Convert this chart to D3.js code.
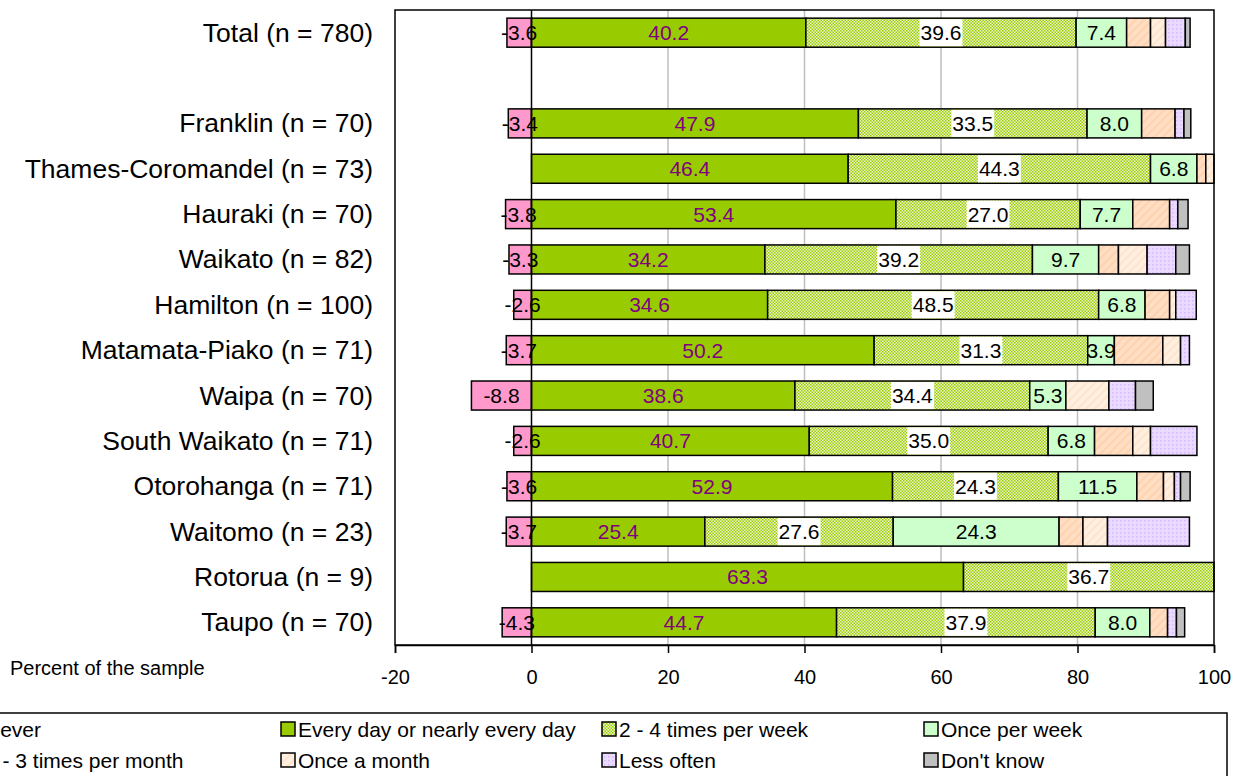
<!DOCTYPE html>
<html><head><meta charset="utf-8">
<script src="https://cdn.jsdelivr.net/npm/d3@7"></script>
<style>body{margin:0;background:#fff;}svg{display:block;font-family:"Liberation Sans",Arial,sans-serif;}</style>
</head><body>
<svg id="chart" width="1241" height="776"></svg>
<script>
const categories = ["Total (n = 780)", "", "Franklin (n = 70)", "Thames-Coromandel (n = 73)", "Hauraki (n = 70)", "Waikato (n = 82)", "Hamilton (n = 100)", "Matamata-Piako (n = 71)", "Waipa (n = 70)", "South Waikato (n = 71)", "Otorohanga (n = 71)", "Waitomo (n = 23)", "Rotorua (n = 9)", "Taupo (n = 70)"];
const never         = [3.6, null, 3.4, 0,    3.8,  3.3,  2.6,  3.7,  8.8,  2.6,  3.6,  3.7,  0,    4.3];
const everyDay      = [40.2, null, 47.9, 46.4, 53.4, 34.2, 34.6, 50.2, 38.6, 40.7, 52.9, 25.4, 63.3, 44.7];
const twoFourWeek   = [39.6, null, 33.5, 44.3, 27.0, 39.2, 48.5, 31.3, 34.4, 35.0, 24.3, 27.6, 36.7, 37.9];
const oncePerWeek   = [7.4, null, 8.0,  6.8,  7.7,  9.7,  6.8,  3.9,  5.3,  6.8,  11.5, 24.3, 0,    8.0];
const twoThreeMonth = [3.5, null, 4.9,  1.3,  5.4,  2.9,  3.6,  7.1,  0,    5.6,  3.9,  3.5,  0,    2.6];
const onceMonth     = [2.2, null, 0,    1.2,  0,    4.2,  0.9,  2.6,  6.3,  2.6,  1.6,  3.6,  0,    0];
const lessOften     = [2.9, null, 1.3,  0,    1.2,  4.2,  3.0,  1.3,  3.9,  6.8,  0.9,  12.0, 0,    1.3];
const dontKnow      = [0.7, null, 1.0,  0,    1.5,  2.0,  0,    0,    2.6,  0,    1.4,  0,    0,    1.2];
const xTicks = [-20, 0, 20, 40, 60, 80, 100];
const xTickLabels = ["-20", "0", "20", "40", "60", "80", "100"];
const seriesNames = ["Never", "Every day or nearly every day", "2 - 4 times per week", "Once per week", "2 - 3 times per month", "Once a month", "Less often", "Don't know"];

const svg = d3.select("#chart");
const defs = svg.append("defs");
const p24 = defs.append("pattern").attr("id","p24").attr("width",3).attr("height",3).attr("patternUnits","userSpaceOnUse");
p24.append("rect").attr("width",3).attr("height",3).attr("fill","#EEF7CF");
p24.append("rect").attr("x",0).attr("y",0).attr("width",1.5).attr("height",1.5).attr("fill","#99CC00");
p24.append("rect").attr("x",1.5).attr("y",1.5).attr("width",1.5).attr("height",1.5).attr("fill","#99CC00");
function hatch(id,bg,fg){
  const p = defs.append("pattern").attr("id",id).attr("width",6).attr("height",6).attr("patternUnits","userSpaceOnUse").attr("patternTransform","rotate(45)");
  p.append("rect").attr("width",6).attr("height",6).attr("fill",bg);
  p.append("rect").attr("width",2).attr("height",6).attr("fill",fg);
}
hatch("p23","#FFDEC4","#FFD2AE");
hatch("p1m","#FFEFE0","#FFE4CC");
const pl = defs.append("pattern").attr("id","pless").attr("width",4).attr("height",4).attr("patternUnits","userSpaceOnUse");
pl.append("rect").attr("width",4).attr("height",4).attr("fill","#EADAFF");
pl.append("rect").attr("width",1.5).attr("height",1.5).attr("fill","#D6B8FF");

const fills = ["#FF99CC","#99CC00","url(#p24)","#CCFFCC","url(#p23)","url(#p1m)","url(#pless)","#C0C0C0"];

const x = d3.scaleLinear().domain([-20,100]).range([395,1214]);
const y = d3.scaleBand().domain(d3.range(categories.length)).range([10,645]).paddingInner(0.36).paddingOuter(0.18);
const bw = y.bandwidth();

svg.append("g").selectAll("line").data([20,40,60,80]).join("line")
  .attr("x1",d=>x(d)).attr("x2",d=>x(d)).attr("y1",10).attr("y2",645)
  .attr("stroke","#BFBFBF").attr("stroke-width",1.5);

const posSeries = [everyDay, twoFourWeek, oncePerWeek, twoThreeMonth, onceMonth, lessOften, dontKnow];
const segs = [];
categories.forEach((c,i)=>{
  if (never[i] === null) return;
  if (never[i] > 0) segs.push({i, s:0, x0:-never[i], x1:0, v:never[i]});
  let acc = 0;
  posSeries.forEach((arr,k)=>{
    const v = arr[i];
    if (v > 0) { segs.push({i, s:k+1, x0:acc, x1:acc+v, v}); acc += v; }
  });
});
svg.append("g").selectAll("rect").data(segs).join("rect")
  .attr("x",d=>x(d.x0)).attr("y",d=>y(d.i)).attr("width",d=>x(d.x1)-x(d.x0)).attr("height",bw)
  .attr("fill",d=>fills[d.s]).attr("stroke","#000").attr("stroke-width",1.5);

svg.append("rect").attr("x",395).attr("y",10).attr("width",x(100)-395).attr("height",635)
  .attr("fill","none").attr("stroke","#000").attr("stroke-width",1.5);
svg.append("line").attr("x1",x(0)).attr("x2",x(0)).attr("y1",10).attr("y2",645).attr("stroke","#000").attr("stroke-width",1.5);

const lab = svg.append("g").attr("font-size","21px");
segs.filter(d=>d.s<=3).forEach(d=>{
  const cx = (x(d.x0)+x(d.x1))/2, cy = y(d.i)+bw/2;
  const txt = d.s===0 ? "-"+d.v.toFixed(1) : d.v.toFixed(1);
  const t = lab.append("text").attr("x",cx).attr("y",cy).attr("text-anchor","middle").attr("dominant-baseline","central")
    .attr("fill", d.s===1 ? "#800080" : "#000").text(txt);
  if (d.s===2) {
    const bb = t.node().getBBox();
    lab.insert("rect", function(){return t.node();}).attr("x",bb.x-1).attr("y",y(d.i)+1).attr("width",bb.width+2).attr("height",bw-2).attr("fill","#fff");
  }
});

svg.append("g").selectAll("text").data(categories).join("text")
  .attr("x",373).attr("y",(d,i)=>y(i)+bw/2).attr("text-anchor","end").attr("dominant-baseline","central")
  .attr("font-size","26.5px").attr("fill","#000").text(d=>d);

const xAxis = svg.append("g").attr("transform","translate(0,645)")
  .call(d3.axisBottom(x).tickValues(xTicks).tickSize(8).tickFormat((d,i)=>xTickLabels[i]));
xAxis.select(".domain").attr("stroke","#000").attr("stroke-width",1.5);
xAxis.selectAll(".tick line").attr("stroke","#000").attr("stroke-width",1.5);
xAxis.selectAll(".tick text").attr("font-size","20px").attr("font-family","'Liberation Sans',Arial,sans-serif").attr("fill","#000").attr("dy",0).attr("y",32).attr("dominant-baseline","central");

svg.append("text").attr("x",10).attr("y",668).attr("dominant-baseline","central").attr("font-size","20px").text("Percent of the sample");

svg.append("rect").attr("x",-10).attr("y",713).attr("width",1237).attr("height",100).attr("fill","none").attr("stroke","#000").attr("stroke-width",1.5);
const legCols = [-32, 281, 602, 924];
const legRows = [729, 760];
const lg = svg.append("g");
seriesNames.forEach((name,s)=>{
  const cx = legCols[s%4], cy = legRows[Math.floor(s/4)];
  lg.append("rect").attr("x",cx).attr("y",cy-7).attr("width",14).attr("height",14).attr("fill",fills[s]).attr("stroke","#000").attr("stroke-width",1.5);
  lg.append("text").attr("x",cx+17).attr("y",cy).attr("dominant-baseline","central").attr("font-size","21px").text(name);
});
</script>
</body></html>
